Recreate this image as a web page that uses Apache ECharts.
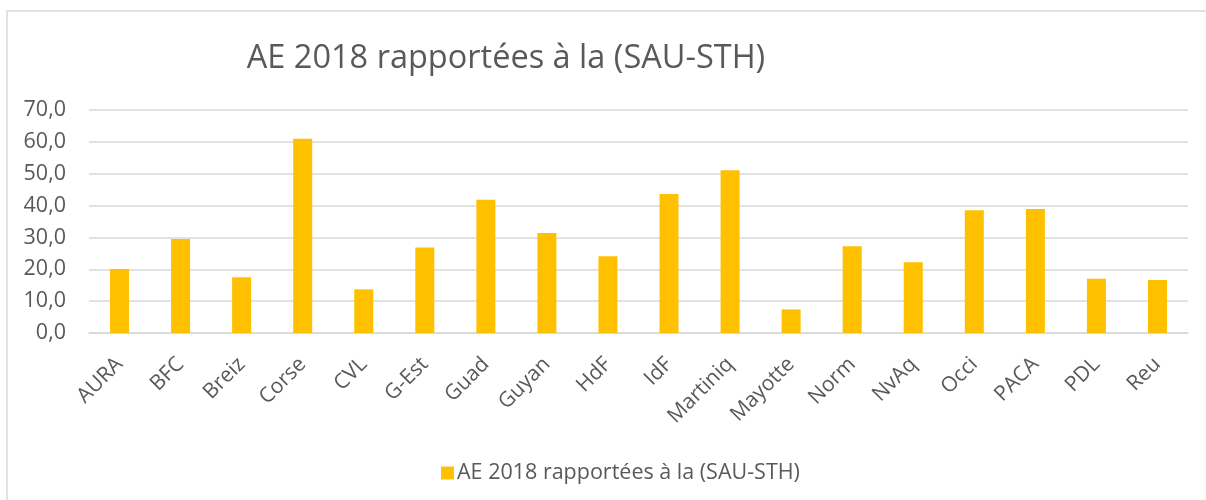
<!DOCTYPE html>
<html>
<head>
<meta charset="utf-8">
<script src="https://cdn.jsdelivr.net/npm/echarts@6/dist/echarts.min.js"></script>
<style>
  html, body { margin: 0; padding: 0; background: #fff; }
  #chart { width: 1206px; height: 500px; }
</style>
</head>
<body>
<div id="chart"></div>
<script>
// Regions (short codes) and the 2018 AE ratio per region
const regions = ['AURA', 'BFC', 'Breiz', 'Corse', 'CVL', 'G-Est', 'Guad', 'Guyan', 'HdF', 'IdF',
  'Martiniq', 'Mayotte', 'Norm', 'NvAq', 'Occi', 'PACA', 'PDL', 'Reu'];
const aeRatio = [20.1, 29.5, 17.5, 61.0, 13.7, 26.8, 41.8, 31.4, 24.1, 43.6,
  51.1, 7.4, 27.2, 22.2, 38.5, 38.9, 17.0, 16.6];
const seriesName = 'AE 2018 rapportées à la (SAU-STH)';
const chartTitle = 'AE 2018 rapportées à la (SAU-STH)';

const textColor = '#595959';
const gridColor = '#d9d9d9';
const fontFamily = '"Open Sans", "Liberation Sans", sans-serif';

const chart = echarts.init(document.getElementById('chart'), null, { renderer: 'canvas' });

chart.setOption({
  animation: false,
  backgroundColor: '#ffffff',
  textStyle: { fontFamily: fontFamily },
  graphic: [{
    type: 'rect',
    shape: { x: 7, y: 11, width: 1400, height: 800 },
    style: { fill: 'none', stroke: gridColor, lineWidth: 1.5 },
    silent: true
  }],
  title: {
    text: chartTitle,
    left: 501,
    textAlign: 'center',
    top: 37,
    textStyle: { fontFamily: fontFamily, fontSize: 32.5, fontWeight: 'normal', color: textColor }
  },
  legend: {
    left: 436,
    top: 457,
    itemWidth: 13,
    itemHeight: 13,
    icon: 'rect',
    textStyle: { fontFamily: fontFamily, fontSize: 21.5, color: textColor, padding: [0, 0, 0, -2] },
    data: [seriesName]
  },
  grid: { left: 89, right: 18, top: 110, bottom: 167, containLabel: false },
  xAxis: {
    type: 'category',
    data: regions,
    axisLine: { lineStyle: { color: gridColor, width: 1.5 } },
    axisTick: { show: false },
    axisLabel: {
      rotate: 45, fontFamily: fontFamily, fontSize: 21, color: textColor, margin: 28, interval: 0
    }
  },
  yAxis: {
    type: 'value',
    min: 0,
    max: 70,
    interval: 10,
    axisLine: { show: false },
    axisTick: { show: false },
    splitLine: { lineStyle: { color: gridColor, width: 1.5 } },
    axisLabel: {
      fontFamily: fontFamily,
      fontSize: 21.5,
      color: textColor,
      margin: 23,
      formatter: v => v.toFixed(1).replace('.', ',')
    }
  },
  series: [{
    name: seriesName,
    type: 'bar',
    data: aeRatio,
    barWidth: 19,
    itemStyle: { color: '#FFC000' }
  }]
});
</script>
</body>
</html>
